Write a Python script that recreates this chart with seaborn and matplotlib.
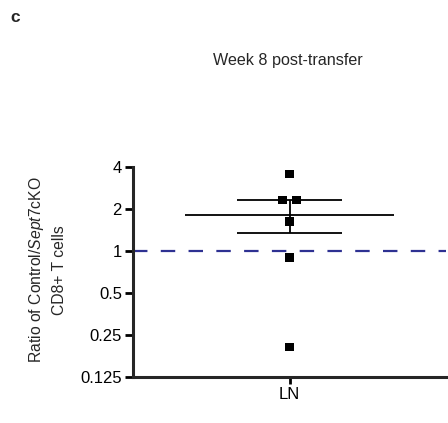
import numpy as np
import pandas as pd
import matplotlib
matplotlib.use("Agg")
import matplotlib.pyplot as plt
import seaborn as sns

categories = ["LN"]
ratios = [3.56, 2.32, 2.32, 1.63, 0.90, 0.205]
yticks = [0.125, 0.25, 0.5, 1, 2, 4]
ytick_labels = ["0.125", "0.25", "0.5", "1", "2", "4"]

sns.set_style("ticks")
plt.rcParams['font.family'] = ['Liberation Sans', 'DejaVu Sans']
plt.rcParams['mathtext.fontset'] = 'custom'
plt.rcParams['mathtext.rm'] = 'Liberation Sans'
plt.rcParams['mathtext.it'] = 'Liberation Sans:italic'

df = pd.DataFrame({"tissue": categories * len(ratios), "ratio": ratios})

fig = plt.figure(figsize=(4.48, 4.23), dpi=100)
ax = fig.add_axes([133/448, (423-377)/423, 313/448, 210/423])

ax.set_yscale("log", base=2)
ax.axhline(1, color="#2e3192", lw=1.6, ls=(0, (6.5, 6)), zorder=1)

sns.swarmplot(data=df, x="tissue", y="ratio", marker="s", color="black",
              size=6, linewidth=3.6, edgecolor="none", ax=ax, zorder=3)

vals = np.array(ratios)
mean = vals.mean()
sem = vals.std(ddof=1) / np.sqrt(len(vals))
ax.hlines(mean, -0.334, 0.334, color="black", lw=1.3, zorder=2)
ax.errorbar([0], [mean], yerr=[[sem], [sem]], fmt="none", ecolor="black",
            elinewidth=1.3, capsize=0, zorder=2)
ax.hlines([mean - sem, mean + sem], -0.168, 0.168, color="black", lw=1.3, zorder=2)

ax.set_xlim(-0.5, 0.5)
ax.set_ylim(0.125, 4)
ax.set_yticks(yticks)
ax.set_yticklabels(ytick_labels)
ax.minorticks_off()
ax.set_xticks([0])
ax.set_xticklabels(categories)

for s in ["top", "right"]:
    ax.spines[s].set_visible(False)
for s in ["left", "bottom"]:
    ax.spines[s].set_linewidth(2.2)
ax.tick_params(axis="both", width=2, length=5, labelsize=12, pad=2, colors="black")
ax.tick_params(axis="y", length=6)

ax.set_xlabel("")
ax.set_ylabel("")
fig.text(37/448, 1 - 270/423, r"Ratio of Control/$\it{Sept7}$cKO", rotation=90,
         ha="center", va="center", fontsize=11.3)
fig.text(60/448, 1 - 270/423, "CD8+ T cells", rotation=90,
         ha="center", va="center", fontsize=11.3)
fig.text(288/448, 1 - 60/423, "Week 8 post-transfer", ha="center", va="center",
         fontsize=11.6)
fig.text(15/448, 1 - 17/423, "c", ha="center", va="center", fontsize=12.5,
         fontweight="bold")

# let the swarm lay itself out, then center tied points symmetrically
fig.canvas.draw()
coll = ax.collections[0]
off = np.array(coll.get_offsets())
if "draw" in coll.__dict__:
    del coll.__dict__["draw"]
for yv in np.unique(off[:, 1]):
    m = off[:, 1] == yv
    off[m, 0] = off[m, 0] - off[m, 0].mean()
coll.set_offsets(off)

fig.savefig("out.png", dpi=100)
